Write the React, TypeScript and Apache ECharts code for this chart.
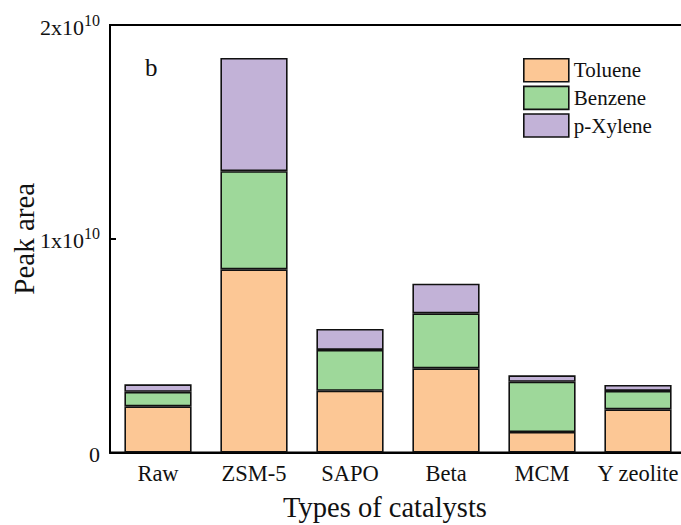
import React, { useEffect, useRef } from "react";
import * as echarts from "echarts";

// Catalysts on the category axis
const catalysts = ["Raw", "ZSM-5", "SAPO", "Beta", "MCM", "Y zeolite"];

// Peak areas of each aromatic product (stacked)
const toluene = [2.16e9, 8.57e9, 2.89e9, 3.94e9, 0.96e9, 2.02e9];
const benzene = [0.68e9, 4.59e9, 1.91e9, 2.57e9, 2.35e9, 0.86e9];
const pXylene = [0.35e9, 5.3e9, 0.98e9, 1.39e9, 0.3e9, 0.28e9];

// Y tick values
const yTicks = [0, 1e10, 2e10];

const FONT = "Liberation Serif";

export default function App() {
  const ref = useRef<HTMLDivElement>(null);

  useEffect(() => {
    if (!ref.current) return;
    const chart = echarts.init(ref.current, null, { renderer: "svg" });

    const barStyle = (color: string) => ({
      color,
      borderColor: "#111",
      borderWidth: 1.6,
    });

    chart.setOption({
      animation: false,
      backgroundColor: "#fff",
      textStyle: { fontFamily: FONT, color: "#111" },
      grid: {
        left: 110,
        right: -5,
        top: 25,
        bottom: 72.5,
        outerBoundsMode: "none",
        containLabel: false,
        show: true,
        borderColor: "#000",
        borderWidth: 2,
        backgroundColor: "transparent",
      },
      legend: {
        orient: "vertical",
        left: 518,
        top: 53,
        icon: "rect",
        itemWidth: 45,
        itemHeight: 23,
        itemGap: 3,
        textStyle: { fontFamily: FONT, fontSize: 21, color: "#111" },
        data: ["Toluene", "Benzene", "p-Xylene"],
        itemStyle: { borderColor: "#111", borderWidth: 1.6 },
      },
      xAxis: {
        type: "category",
        data: catalysts,
        name: "Types of catalysts",
        nameLocation: "middle",
        nameGap: 40,
        nameMoveOverlap: false,
        nameTextStyle: { fontFamily: FONT, fontSize: 28.5, color: "#111", padding: [0, 26, 0, 0] },
        axisLine: { lineStyle: { color: "#000", width: 2 } },
        axisTick: { inside: true, length: 5, lineStyle: { color: "#000", width: 2 } },
        axisLabel: { interval: 0, fontFamily: FONT, fontSize: 22.5, color: "#111", margin: 9 },
      },
      yAxis: {
        type: "value",
        min: 0,
        max: 2e10,
        interval: 1e10,
        name: "Peak area",
        nameLocation: "middle",
        nameGap: 72,
        nameMoveOverlap: false,
        nameTextStyle: { fontFamily: FONT, fontSize: 29, color: "#111" },
        axisLine: { show: true, lineStyle: { color: "#000", width: 2 } },
        axisTick: { show: true, inside: true, length: 6, lineStyle: { color: "#000", width: 2 } },
        splitLine: { show: false },
        axisLabel: {
          margin: 10,
          formatter: (v: number) => {
            if (!yTicks.includes(v)) return "";
            if (v === 0) return "{b|0}";
            return `{b|${v / 1e10}x10}{s|10}`;
          },
          rich: {
            b: { fontFamily: FONT, fontSize: 22, color: "#111", verticalAlign: "bottom", lineHeight: 26 },
            s: { fontFamily: FONT, fontSize: 16, color: "#111", verticalAlign: "top", lineHeight: 26 },
          },
        },
      },
      graphic: [
        {
          type: "text",
          left: 145,
          top: 55,
          style: { text: "b", fontFamily: FONT, fontSize: 25, fill: "#111" },
        },
      ],
      series: [
        { name: "Toluene", type: "bar", stack: "total", barWidth: "70%", data: toluene, itemStyle: barStyle("#FCC795") },
        { name: "Benzene", type: "bar", stack: "total", barWidth: "70%", data: benzene, itemStyle: barStyle("#9ED89A") },
        { name: "p-Xylene", type: "bar", stack: "total", barWidth: "70%", data: pXylene, itemStyle: barStyle("#C2B2D7") },
      ],
    });

    return () => chart.dispose();
  }, []);

  return (
    <div
      ref={ref}
      style={{ position: "fixed", left: 0, top: 0, width: 681, height: 525, background: "#fff" }}
    />
  );
}
